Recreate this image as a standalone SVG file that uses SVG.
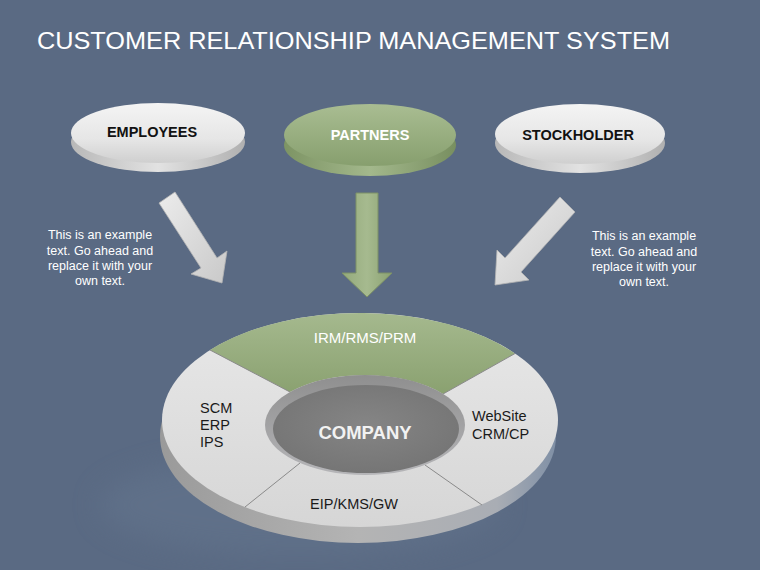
<svg xmlns="http://www.w3.org/2000/svg" width="760" height="570" viewBox="0 0 760 570">
<defs>
<linearGradient id="grayTop" x1="0" y1="0" x2="0" y2="1">
<stop offset="0" stop-color="#f4f4f4"/><stop offset="0.6" stop-color="#e6e6e6"/><stop offset="1" stop-color="#cfcfcf"/>
</linearGradient>
<linearGradient id="graySide" x1="0" y1="0" x2="1" y2="0">
<stop offset="0" stop-color="#b8b8b8"/><stop offset="0.5" stop-color="#e2e2e2"/><stop offset="1" stop-color="#b0b0b0"/>
</linearGradient>
<linearGradient id="greenTop" x1="0" y1="0" x2="0" y2="1">
<stop offset="0" stop-color="#a9bd92"/><stop offset="1" stop-color="#879f6e"/>
</linearGradient>
<linearGradient id="greenSide" x1="0" y1="0" x2="1" y2="0">
<stop offset="0" stop-color="#7d9464"/><stop offset="0.5" stop-color="#a3b88c"/><stop offset="1" stop-color="#788f60"/>
</linearGradient>
<linearGradient id="arrowGray" x1="0" y1="0" x2="1" y2="1">
<stop offset="0" stop-color="#ececec"/><stop offset="1" stop-color="#c9c9c9"/>
</linearGradient>
<linearGradient id="arrowGreen" x1="0" y1="0" x2="1" y2="0">
<stop offset="0" stop-color="#93a97b"/><stop offset="0.5" stop-color="#a6ba8f"/><stop offset="1" stop-color="#8ba272"/>
</linearGradient>
<linearGradient id="ringFace" x1="0" y1="0" x2="0" y2="1">
<stop offset="0" stop-color="#e8e8e8"/><stop offset="1" stop-color="#d6d6d6"/>
</linearGradient>
<linearGradient id="ringGreen" x1="0" y1="0" x2="0" y2="1">
<stop offset="0" stop-color="#a5b98e"/><stop offset="1" stop-color="#8aa170"/>
</linearGradient>
<linearGradient id="ringSide" x1="0" y1="0" x2="1" y2="0">
<stop offset="0" stop-color="#9a9a9a"/><stop offset="0.5" stop-color="#b4b4b4"/><stop offset="0.85" stop-color="#a9adb4"/><stop offset="1" stop-color="#8090a6"/>
</linearGradient>
<linearGradient id="rim" x1="0" y1="0" x2="0" y2="1">
<stop offset="0" stop-color="#8f8f8f"/><stop offset="1" stop-color="#b5b5b8"/>
</linearGradient>
<radialGradient id="floor" cx="0.5" cy="0.45" r="0.6">
<stop offset="0" stop-color="#858585"/><stop offset="1" stop-color="#747474"/>
</radialGradient>
<filter id="blur" x="-20%" y="-50%" width="140%" height="200%"><feGaussianBlur stdDeviation="14"/></filter>
<style>
.title{font-family:"Liberation Sans",Arial,sans-serif;font-size:24.5px;fill:#ffffff}
.node{font-family:"Liberation Sans",Arial,sans-serif;font-size:14.5px;font-weight:bold;text-anchor:middle}
.note{font-family:"Liberation Sans",Arial,sans-serif;font-size:12.5px;fill:#ffffff;text-anchor:middle}
.ring{font-family:"Liberation Sans",Arial,sans-serif;font-size:14.5px;fill:#1a1a1a}
.div{stroke:#8a8a8a;stroke-width:1;fill:none}
</style>
</defs>
<rect width="760" height="570" fill="#5a6a83"/>
<text class="title" x="37" y="49" textLength="633" lengthAdjust="spacingAndGlyphs">CUSTOMER RELATIONSHIP MANAGEMENT SYSTEM</text>

<g id="employees">
<ellipse cx="158" cy="142" rx="87" ry="30" fill="url(#graySide)"/>
<ellipse cx="158" cy="133" rx="87" ry="30" fill="url(#grayTop)"/>
<text class="node" x="152" y="137" fill="#111">EMPLOYEES</text>
</g>
<g id="partners">
<ellipse cx="370" cy="145" rx="86" ry="31" fill="url(#greenSide)"/>
<ellipse cx="370" cy="135" rx="86" ry="31" fill="url(#greenTop)"/>
<text class="node" x="370" y="140" fill="#ffffff">PARTNERS</text>
</g>
<g id="stockholder">
<ellipse cx="580" cy="143" rx="85" ry="30" fill="url(#graySide)"/>
<ellipse cx="580" cy="134" rx="85" ry="30" fill="url(#grayTop)"/>
<text class="node" x="578" y="140" fill="#111">STOCKHOLDER</text>
</g>

<g id="connectors">
<polygon points="159,203 175,192 217,258 227,251 222,283 191,274 201,268" fill="url(#arrowGray)" stroke="#b5b5b5" stroke-width="0.8"/>
<polygon points="356,193 378,193 378,273 392,273 367,297 342,273 356,273" fill="url(#arrowGreen)" stroke="#7d9166" stroke-width="1"/>
<polygon points="560,197 575,212 521,272 529,280 495,285 497,250 505,258" fill="url(#arrowGray)" stroke="#b5b5b5" stroke-width="0.8"/>
</g>

<g id="note-left">
<text class="note" x="100" y="239">This is an example</text>
<text class="note" x="100" y="255">text. Go ahead and</text>
<text class="note" x="100" y="270">replace it with your</text>
<text class="note" x="100" y="285">own text.</text>
</g>
<g id="note-right">
<text class="note" x="644" y="240">This is an example</text>
<text class="note" x="644" y="256">text. Go ahead and</text>
<text class="note" x="644" y="271">replace it with your</text>
<text class="note" x="644" y="286">own text.</text>
</g>

<g id="company-ring">
<ellipse cx="300" cy="505" rx="200" ry="50" fill="#64748d" opacity="0.6" filter="url(#blur)"/>
<ellipse cx="358" cy="436" rx="198" ry="107" fill="url(#ringSide)"/>
<ellipse cx="360" cy="420" rx="198" ry="107" fill="url(#ringFace)"/>
<path d="M210,350 A198,107 0 0 1 515,353.5 L443,394 A100,50 0 0 0 290,392 Z" fill="url(#ringGreen)"/>
<line class="div" x1="210" y1="350" x2="290" y2="392"/>
<line class="div" x1="515" y1="353.5" x2="443" y2="394"/>
<line class="div" x1="300" y1="463" x2="245" y2="507"/>
<line class="div" x1="425" y1="465" x2="482" y2="505"/>
<ellipse cx="365" cy="425" rx="100" ry="50" fill="url(#rim)"/>
<ellipse cx="366" cy="429" rx="93" ry="44" fill="url(#floor)"/>
<text x="365" y="343" font-family="Liberation Sans, Arial, sans-serif" font-size="15" fill="#ffffff" text-anchor="middle">IRM/RMS/PRM</text>
<text class="ring" x="200" y="413">SCM</text>
<text class="ring" x="200" y="430">ERP</text>
<text class="ring" x="200" y="447">IPS</text>
<text class="ring" x="472" y="421">WebSite</text>
<text class="ring" x="472" y="439">CRM/CP</text>
<text class="ring" x="354" y="509" text-anchor="middle">EIP/KMS/GW</text>
<text x="365" y="439" font-family="Liberation Sans, Arial, sans-serif" font-size="18.5" font-weight="bold" fill="#f2f2f2" text-anchor="middle">COMPANY</text>
</g>
</svg>
